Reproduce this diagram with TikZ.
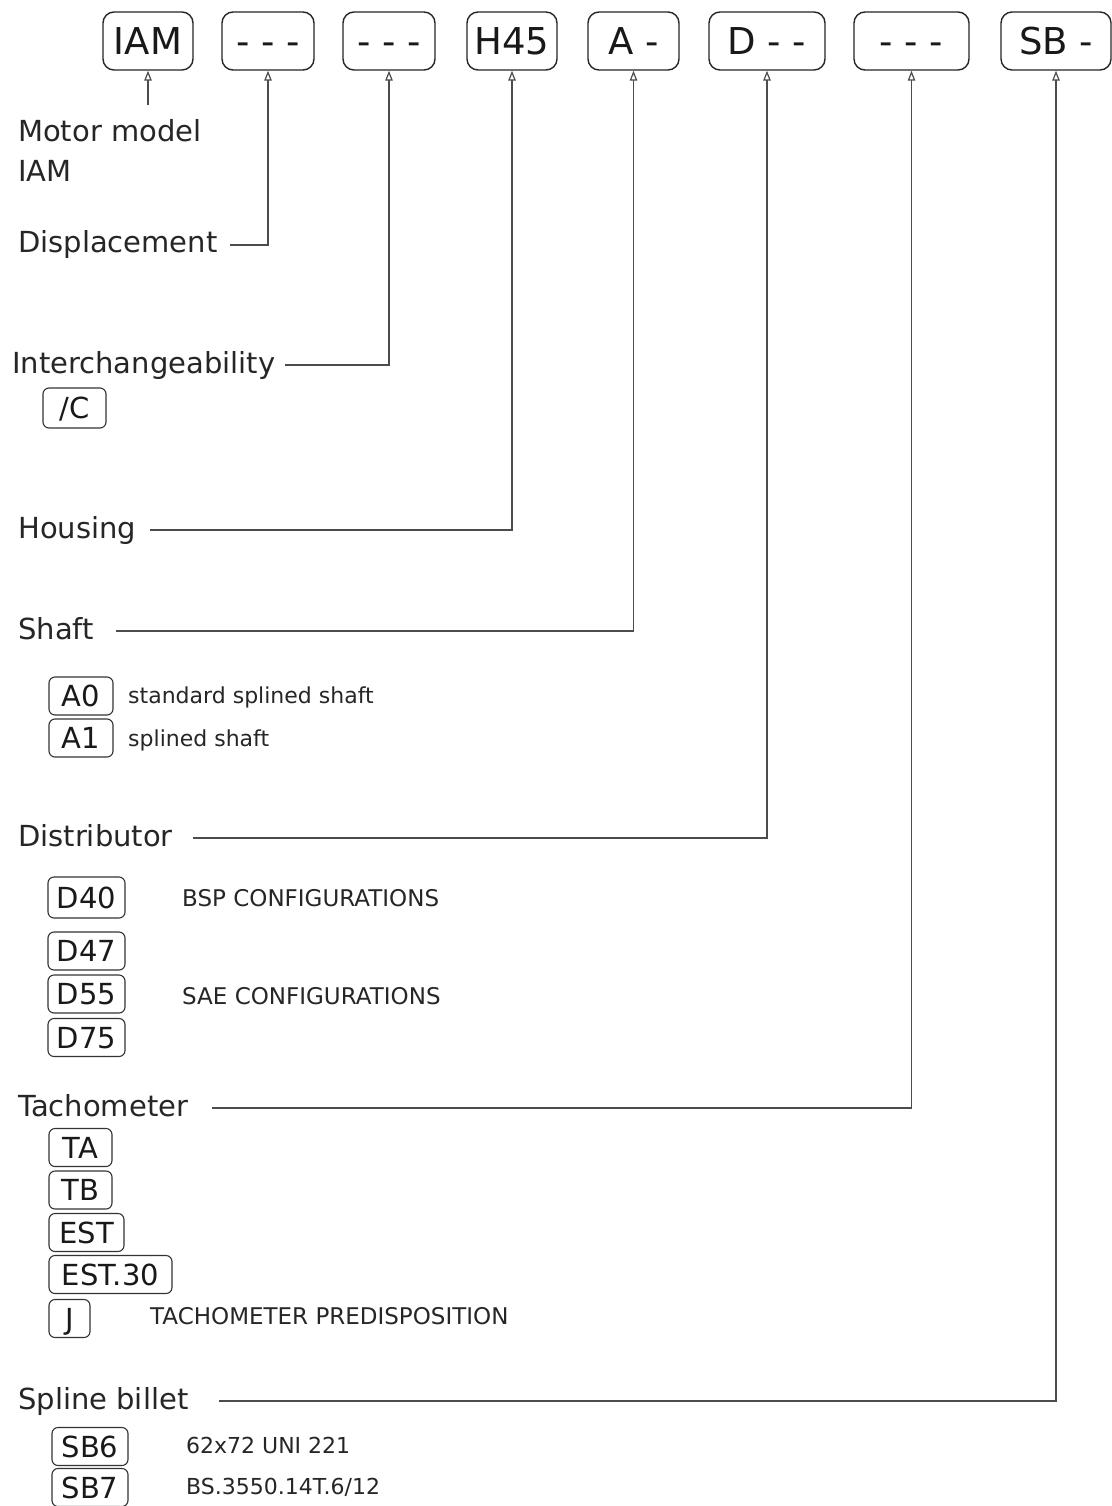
\documentclass[tikz,border=0pt]{standalone}
\usepackage{fontspec}
\setmainfont{DejaVu Sans}
\usetikzlibrary{arrows.meta}
\begin{document}
\begin{tikzpicture}[x=1pt,y=-1pt,
  tbox/.style={draw=black!85, line width=1.4pt, rounded corners=11pt, minimum height=58pt, inner sep=0pt, font=\fontsize{37}{40}\selectfont, text height=27pt, text depth=0pt, text=black!90},
  sbox/.style={draw=black!80, line width=1.1pt, rounded corners=6pt, minimum height=38pt, inner sep=0pt, font=\fontsize{29}{32}\selectfont, text height=21.2pt, text depth=0pt, text=black!90},
  lbl/.style={anchor=west, inner sep=0pt, font=\fontsize{29}{32}\selectfont, text height=21.8pt, text depth=5.8pt, text=black!85},
  desc/.style={anchor=west, inner sep=0pt, font=\fontsize{22}{25}\selectfont, text height=16pt, text depth=4.4pt, text=black!85},
  capdesc/.style={desc, font=\fontsize{23}{26}\selectfont},
  conn/.style={draw=black!70, line width=1.2pt, -{Triangle[open,length=10pt,width=7.5pt]}},
]
\fill[white] (0,0) rectangle (1111,1506);
\useasboundingbox (0,0) rectangle (1111,1506);

% top code boxes
\node[tbox, minimum width=90pt]  (iam)  at (148,41)    {IAM};
\node[tbox, minimum width=92pt]  (bdis) at (268,41)    {- - -};
\node[tbox, minimum width=92pt]  (bint) at (389,41)    {- - -};
\node[tbox, minimum width=90pt]  (bhou) at (512,41)    {H45};
\node[tbox, minimum width=91pt]  (bsha) at (633.5,41)  {A -};
\node[tbox, minimum width=116pt] (bdst) at (767,41)    {D - -};
\node[tbox, minimum width=115pt] (btac) at (911.5,41)  {- - -};
\node[tbox, minimum width=110pt] (bspl) at (1056,41)   {SB -};

% labels
\node[lbl] (mm)     at (18,134)  {Motor model};
\node[lbl] (mmiam)  at (18,174)  {IAM};
\node[lbl] (ldisp)  at (18,245)  {Displacement};
\node[lbl] (linter) at (12,365)  {Interchangeability};
\node[lbl] (lhous)  at (18,530)  {Housing};
\node[lbl] (lshaft) at (18,631)  {Shaft};
\node[lbl] (ldist)  at (18,838)  {Distributor};
\node[lbl] (ltach)  at (18,1108) {Tachometer};
\node[lbl] (lspl)   at (18,1401) {Spline billet};

% connectors
\coordinate (mmtop) at (148,105);
\draw[conn] (mmtop) -- (iam.south);
\draw[conn] ([xshift=12pt]ldisp.east)  -| (bdis.south);
\draw[conn] ([xshift=10pt]linter.east) -| (bint.south);
\draw[conn] ([xshift=14pt]lhous.east)  -| (bhou.south);
\draw[conn] ([xshift=22pt]lshaft.east) -| (bsha.south);
\draw[conn] ([xshift=20pt]ldist.east)  -| (bdst.south);
\draw[conn] ([xshift=24pt]ltach.east)  -| (btac.south);
\draw[conn] ([xshift=30pt]lspl.east)   -| (bspl.south);

% option boxes
\node[sbox, minimum width=63pt, minimum height=40pt] (bc) at (74.5,408) {/C};
\node[sbox, minimum width=64pt] (ba0) at (81,696) {A0};
\node[sbox, minimum width=64pt] (ba1) at (81,738) {A1};
\node[sbox, minimum width=77pt, minimum height=41pt] (bd40) at (86.5,897.5) {D40};
\node[sbox, minimum width=77pt] (bd47) at (86.5,951) {D47};
\node[sbox, minimum width=77pt] (bd55) at (86.5,994) {D55};
\node[sbox, minimum width=77pt] (bd75) at (86.5,1037.5) {D75};
\node[sbox, minimum width=63pt] (bta) at (80.5,1147.5) {TA};
\node[sbox, minimum width=63pt] (btb) at (80.5,1190) {TB};
\node[sbox, minimum width=75pt] (best) at (86.5,1232.5) {EST};
\node[sbox, minimum width=123pt] (best30) at (110.5,1274.5) {EST.30};
\node[sbox, minimum width=41pt] (bj) at (69.5,1318.5) {J};
\node[sbox, minimum width=76pt] (bsb6) at (90,1446.5) {SB6};
\node[sbox, minimum width=76pt] (bsb7) at (90,1487.5) {SB7};

% descriptions
\node[desc] (dstd) at (128,698)  {standard splined shaft};
\node[desc] (dspl) at (128,741)  {splined shaft};
\node[capdesc] (dbsp) at (182,901)  {BSP CONFIGURATIONS};
\node[capdesc] (dsae) at (182,999)  {SAE CONFIGURATIONS};
\node[capdesc] (dtp)  at (150,1319) {TACHOMETER PREDISPOSITION};
\node[desc] (dsb6) at (186,1448) {62x72 UNI 221};
\node[desc] (dsb7) at (186,1489) {BS.3550.14T.6/12};
\end{tikzpicture}
\end{document}
